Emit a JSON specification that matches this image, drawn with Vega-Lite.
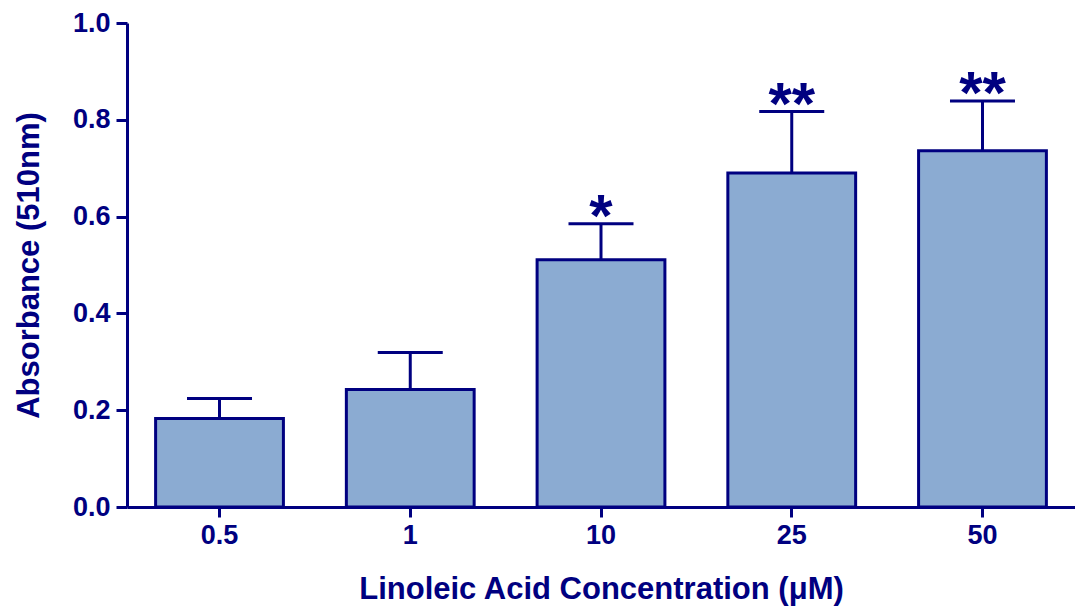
{
  "$schema": "https://vega.github.io/schema/vega-lite/v6.json",
  "width": 948,
  "height": 484,
  "autosize": "none",
  "padding": {"left": 127, "top": 23, "right": 0, "bottom": 102},
  "background": "white",
  "data": {
    "values": [
      {"conc": "0.5", "mean": 0.183, "upper": 0.224, "sig": ""},
      {"conc": "1", "mean": 0.243, "upper": 0.319, "sig": ""},
      {"conc": "10", "mean": 0.511, "upper": 0.585, "sig": "*"},
      {"conc": "25", "mean": 0.690, "upper": 0.817, "sig": "**"},
      {"conc": "50", "mean": 0.736, "upper": 0.839, "sig": "**"}
    ]
  },
  "config": {
    "view": {"stroke": null},
    "font": "Liberation Sans",
    "axis": {
      "domainColor": "#000080",
      "domainWidth": 3,
      "tickColor": "#000080",
      "tickWidth": 3,
      "labelColor": "#000080",
      "labelFont": "Liberation Sans",
      "labelFontWeight": "bold",
      "labelFontSize": 27,
      "titleColor": "#000080",
      "titleFont": "Liberation Sans",
      "titleFontWeight": "bold",
      "grid": false
    }
  },
  "encoding": {
    "x": {
      "field": "conc",
      "type": "nominal",
      "sort": null,
      "scale": {"paddingInner": 0.33, "paddingOuter": 0.15},
      "axis": {
        "title": "Linoleic Acid Concentration (μM)",
        "titleFontSize": 31,
        "titlePadding": 26,
        "labelAngle": 0,
        "tickSize": 10,
        "labelPadding": 5
      }
    }
  },
  "layer": [
    {
      "mark": {"type": "rule", "color": "#000080", "strokeWidth": 3},
      "encoding": {
        "y": {"field": "mean", "type": "quantitative"},
        "y2": {"field": "upper"}
      }
    },
    {
      "mark": {"type": "tick", "color": "#000080", "thickness": 3, "size": 65, "orient": "horizontal", "opacity": 1},
      "encoding": {
        "y": {"field": "upper", "type": "quantitative"}
      }
    },
    {
      "mark": {"type": "bar", "fill": "#8BABD2", "stroke": "#000080", "strokeWidth": 3, "strokeJoin": "miter"},
      "encoding": {
        "y": {
          "field": "mean",
          "type": "quantitative",
          "scale": {"domain": [0, 1.0], "nice": false},
          "axis": {
            "title": "Absorbance (510nm)",
            "titleFontSize": 31,
            "titlePadding": 27,
            "values": [0, 0.2, 0.4, 0.6, 0.8, 1.0],
            "format": ".1f",
            "tickSize": 11,
            "labelPadding": 6
          }
        }
      }
    },
    {
      "mark": {"type": "text", "color": "#000080", "fontSize": 60, "fontWeight": "bold", "baseline": "alphabetic", "dy": 12, "font": "Liberation Sans"},
      "encoding": {
        "y": {"field": "upper", "type": "quantitative"},
        "text": {"field": "sig"}
      }
    }
  ]
}
